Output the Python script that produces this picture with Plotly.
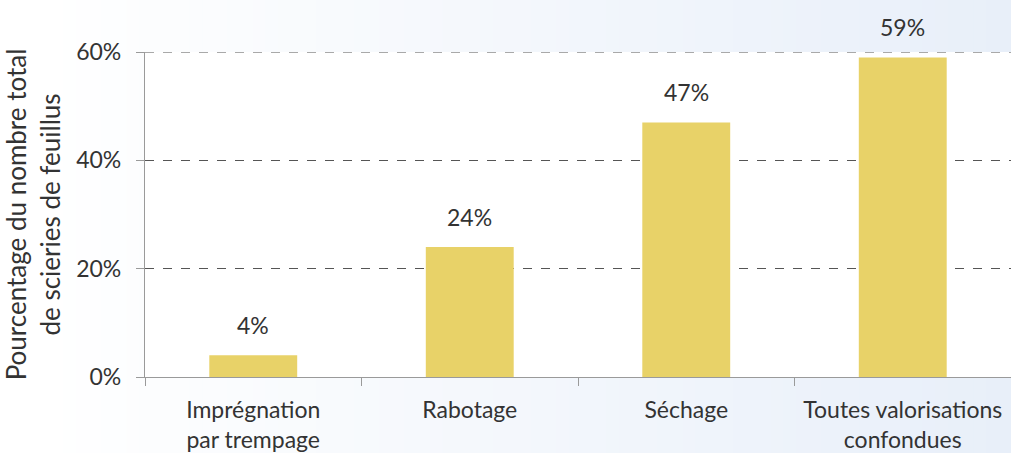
import plotly.graph_objects as go

# Data
categories = ["Imprégnation<br>par trempage", "Rabotage", "Séchage",
              "Toutes valorisations<br>confondues"]
values = [4, 24, 47, 59]
y_ticks = [0, 20, 40, 60]
y_tick_labels = ["0%", "20%", "40%", "60%"]

W, H = 1011, 453
M_L, M_R, M_T, M_B = 145, 0, 52, 76
FONT = "Lato, 'Open Sans', sans-serif"
TXT = "#333333"
BAR = "#E8D268"
FS = 23

fig = go.Figure()
fig.add_trace(go.Bar(
    x=categories, y=values, marker=dict(color=BAR, line=dict(width=0)),
    hoverinfo="skip",
))

# value labels above each bar
for c, v in zip(categories, values):
    fig.add_annotation(x=c, y=v, text=f"{v}%", showarrow=False,
                       yanchor="bottom", yshift=14,
                       font=dict(family=FONT, size=FS, color=TXT))

# horizontal background gradient (white on the left to pale blue on the right)
shapes = []
n = 80
pw = W - M_L - M_R
c0 = (255, 255, 255)
c1 = (232, 239, 249)
for i in range(n):
    px0 = i * W / n
    px1 = (i + 1) * W / n + 1
    t = max(0.0, min(1.0, ((px0 + px1) / 2 - 40) / (W - 40)))
    col = tuple(round(a + (b - a) * t) for a, b in zip(c0, c1))
    shapes.append(dict(
        type="rect", xref="paper", yref="paper", layer="below",
        x0=(px0 - M_L) / pw, x1=(px1 - M_L) / pw,
        y0=-M_B / (H - M_T - M_B) - 0.05, y1=1 + M_T / (H - M_T - M_B) + 0.05,
        fillcolor="rgb(%d,%d,%d)" % col, line=dict(width=0),
    ))
# white plotting area
shapes.append(dict(type="rect", xref="paper", yref="paper", layer="below",
                   x0=0, x1=1, y0=0, y1=1, fillcolor="white",
                   line=dict(width=0)))
# dashed gridline at the top of the range
shapes.append(dict(type="line", xref="paper", yref="y", layer="above",
                   x0=0, x1=1, y0=y_ticks[-1], y1=y_ticks[-1],
                   line=dict(color="#555555", width=1, dash="dash")))

fig.update_layout(
    width=W, height=H,
    margin=dict(l=M_L, r=M_R, t=M_T, b=M_B, pad=0),
    paper_bgcolor="white", plot_bgcolor="rgba(0,0,0,0)",
    shapes=shapes, showlegend=False, bargap=0.594,
    font=dict(family=FONT, size=FS, color=TXT),
    xaxis=dict(
        range=[-0.5, 3.5], showgrid=False, showline=True,
        linecolor="#9a9a9a", linewidth=1.2, ticks="outside",
        tickson="boundaries", ticklen=8, tickcolor="#9a9a9a",
        ticklabelstandoff=12,
        tickfont=dict(family=FONT, size=FS, color=TXT), fixedrange=True,
    ),
    yaxis=dict(
        range=[0, 60], tickvals=y_ticks, ticktext=y_tick_labels,
        showgrid=True, gridcolor="#555555", griddash="dash", gridwidth=1,
        zeroline=False, showline=True, linecolor="#9a9a9a", linewidth=1.2,
        ticks="outside", ticklen=8, tickcolor="#9a9a9a",
        ticklabelstandoff=10,
        tickfont=dict(family=FONT, size=FS, color=TXT),
        title=dict(text="Pourcentage du nombre total<br>de scieries de feuillus",
                   font=dict(family=FONT, size=26, color=TXT), standoff=8),
        fixedrange=True,
    ),
)

fig.write_html("out.html")
